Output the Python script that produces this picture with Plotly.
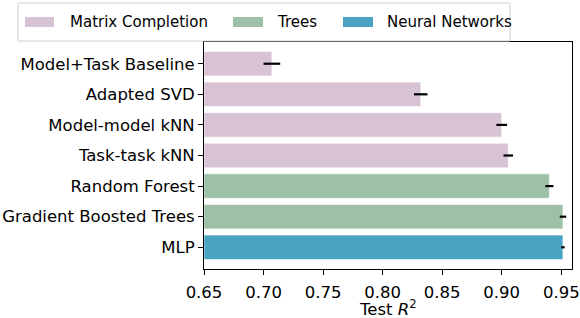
import plotly.graph_objects as go

methods = ["Model+Task Baseline", "Adapted SVD", "Model-model kNN", "Task-task kNN",
           "Random Forest", "Gradient Boosted Trees", "MLP"]
values = [0.707, 0.832, 0.900, 0.9055, 0.940, 0.9514, 0.9514]
errors = [0.007, 0.0057, 0.0045, 0.004, 0.0034, 0.0027, 0.0015]
groups = ["Matrix Completion", "Matrix Completion", "Matrix Completion", "Matrix Completion",
          "Trees", "Trees", "Neural Networks"]
group_names = ["Matrix Completion", "Trees", "Neural Networks"]
group_colors = {"Matrix Completion": "#d8c3d5", "Trees": "#9dc0a6", "Neural Networks": "#4ba3c3"}
xticks = [0.65, 0.70, 0.75, 0.80, 0.85, 0.90, 0.95]
x_title = "Test <i>R</i><sup>2</sup>"

W, H = 580, 318
L, R, T, B = 204, 8, 42, 49
pw, ph = W - L - R, H - T - B

def px(x):
    return (x - L) / pw

def py(y):
    return (H - B - y) / ph

fig = go.Figure()
base = 0.65
fig.add_trace(go.Bar(
    y=methods, x=[v - base for v in values], base=base, orientation="h",
    marker=dict(color=[group_colors[g] for g in groups], line=dict(color="white", width=0.6)),
    width=0.8, showlegend=False,
    error_x=dict(type="data", array=errors, color="black", thickness=2.2, width=0),
))

fig.update_layout(
    width=W, height=H, margin=dict(l=L, r=R, t=T, b=B, autoexpand=False),
    plot_bgcolor="white", paper_bgcolor="white",
    font=dict(family="DejaVu Sans", size=16.5, color="black"),
    bargap=0.2,
)
fig.update_xaxes(range=[0.65, 0.959], tickvals=xticks, ticktext=[f"{t:.2f}" for t in xticks],
                 showline=True, linecolor="black", linewidth=1, mirror=True, automargin=False,
                 ticks="outside", ticklen=5, tickcolor="black", showgrid=False, zeroline=False,
                 tickfont=dict(size=16.5), ticklabelstandoff=3)
fig.update_yaxes(categoryorder="array", categoryarray=methods, range=[6.71, -0.71],
                 showline=True, linecolor="black", linewidth=1, mirror=True, automargin=False,
                 ticks="outside", ticklen=5, tickcolor="black", showgrid=False,
                 tickfont=dict(size=16.5))

# manual legend
shapes = [dict(type="rect", xref="paper", yref="paper", x0=px(18), x1=px(510), y0=py(41), y1=py(3),
               line=dict(color="#d0d0d0", width=1), fillcolor="white", layer="above")]
annotations = []
sw = [(25, 54, 68), (233, 263, 275), (343, 373, 385)]
for (s0, s1, tx), g in zip(sw, group_names):
    shapes.append(dict(type="rect", xref="paper", yref="paper", x0=px(s0), x1=px(s1),
                       y0=py(27), y1=py(17), line=dict(width=0), fillcolor=group_colors[g], layer="above"))
    annotations.append(dict(xref="paper", yref="paper", x=px(tx), y=py(22), text=g, showarrow=False,
                            xanchor="left", yanchor="middle", font=dict(size=15)))
annotations.append(dict(xref="paper", yref="paper", x=0.5, y=0, yshift=-26, text=x_title, showarrow=False,
                        xanchor="center", yanchor="top", font=dict(size=16.5)))
fig.update_layout(shapes=shapes, annotations=annotations)

fig.write_html("out.html", config={"displayModeBar": False},
               post_script="document.body.style.margin='0';document.body.style.overflow='hidden';")
